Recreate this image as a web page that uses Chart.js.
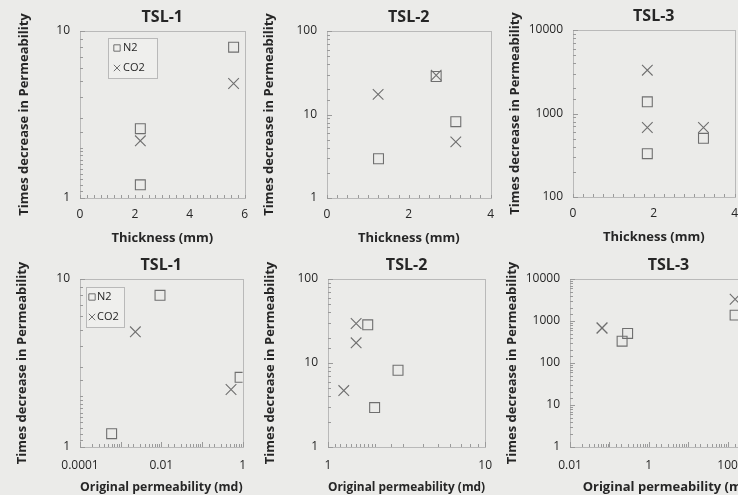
<!DOCTYPE html>
<html>
<head>
<meta charset="utf-8">
<script src="https://cdn.jsdelivr.net/npm/chart.js@4.4.0/dist/chart.umd.min.js"></script>
<style>
body { margin:0; background:#ebebe9; width:738px; height:495px; overflow:hidden; position:relative; }
canvas { position:absolute; }
</style>
</head>
<body>
<canvas id="c1"></canvas>
<canvas id="c2"></canvas>
<canvas id="c3"></canvas>
<canvas id="c4"></canvas>
<canvas id="c5"></canvas>
<canvas id="c6"></canvas>
<script>
// values: thickness (mm), original permeability (md), times decrease
const tsl1N2Thick = [2.2, 2.2, 5.6];
const tsl1N2Perm = [0.87, 0.0006, 0.0093];
const tsl1N2Times = [2.6, 1.2, 8.0];
const tsl1CO2Thick = [2.2, 5.6];
const tsl1CO2Perm = [0.52, 0.0023];
const tsl1CO2Times = [2.2, 4.85];

const tsl2N2Thick = [1.26, 2.67, 3.15];
const tsl2N2Perm = [1.98, 1.79, 2.79];
const tsl2N2Times = [2.95, 28.5, 8.2];
const tsl2CO2Thick = [1.25, 2.67, 3.15];
const tsl2CO2Perm = [1.51, 1.51, 1.26];
const tsl2CO2Times = [17.4, 29.5, 4.7];

const tsl3N2Thick = [1.84, 1.84, 3.23];
const tsl3N2Perm = [155, 0.21, 0.29];
const tsl3N2Times = [1380, 330, 505];
const tsl3CO2Thick = [1.84, 1.84, 3.23];
const tsl3CO2Perm = [155, 0.065, 0.065];
const tsl3CO2Times = [3300, 680, 680];

const seriesNames = ['N2', 'CO2'];
const yTitle = 'Times decrease in Permeability';

const ink = '#262626';
const markColor = '#6f6f6f';
const frameColor = '#b9b9b9';

function pts(xs, ys) {
	return xs.map((x, i) => ({x: x, y: ys[i]}));
}

const panels = [
	{id:'c1', title:'TSL-1', L:80, R:247, T:31, B:198, row:0, yt:14,
		x:{type:'linear', min:0, max:6, step:2}, y:{min:1, max:10},
		n2:pts(tsl1N2Thick, tsl1N2Times), co2:pts(tsl1CO2Thick, tsl1CO2Times),
		xTitle:'Thickness (mm)', legend:{dx:28, dy:7, w:49, h:40, sym:9, txt:15}},
	{id:'c2', title:'TSL-2', L:327, R:493, T:31, B:198, row:0, yt:12,
		x:{type:'linear', min:0, max:4, step:2}, y:{min:1, max:100},
		n2:pts(tsl2N2Thick, tsl2N2Times), co2:pts(tsl2CO2Thick, tsl2CO2Times),
		xTitle:'Thickness (mm)'},
	{id:'c3', title:'TSL-3', L:573, R:737, T:30, B:197, row:0, yt:12,
		x:{type:'linear', min:0, max:4, step:2}, y:{min:100, max:10000},
		n2:pts(tsl3N2Thick, tsl3N2Times), co2:pts(tsl3CO2Thick, tsl3CO2Times),
		xTitle:'Thickness (mm)'},
	{id:'c4', title:'TSL-1', L:80, R:247, T:279, B:447, row:1, yt:12,
		x:{type:'logarithmic', min:0.0001, max:1, every:2}, y:{min:1, max:10},
		n2:pts(tsl1N2Perm, tsl1N2Times), co2:pts(tsl1CO2Perm, tsl1CO2Times),
		xTitle:'Original permeability (md)', legend:{dx:6, dy:8, w:38, h:40, sym:6, txt:11}},
	{id:'c5', title:'TSL-2', L:328, R:493, T:279, B:447, row:1, yt:12,
		x:{type:'logarithmic', min:1, max:10}, y:{min:1, max:100},
		n2:pts(tsl2N2Perm, tsl2N2Times), co2:pts(tsl2CO2Perm, tsl2CO2Times),
		xTitle:'Original permeability (md)'},
	{id:'c6', title:'TSL-3', L:570, R:768, T:279, B:447, row:1, yt:12,
		x:{type:'logarithmic', min:0.01, max:1000, every:2}, y:{min:1, max:10000},
		n2:pts(tsl3N2Perm, tsl3N2Times), co2:pts(tsl3CO2Perm, tsl3CO2Times),
		xTitle:'Original permeability (md)'}
];

function isPow10(v) {
	let l = Math.log10(v);
	return Math.abs(l - Math.round(l)) < 1e-6;
}

function fmt(v) {
	return String(Number(v.toPrecision(6)));
}

// frame, inner tick marks, title and legend, drawn like the spreadsheet original
const decor = {
	id: 'decor',
	afterDraw(chart, args, opts) {
		const p = opts.panel;
		const a = chart.chartArea;
		const ctx = chart.ctx;
		const xs = chart.scales.x, ys = chart.scales.y;
		ctx.save();
		ctx.strokeStyle = frameColor;
		ctx.lineWidth = 1;
		ctx.strokeRect(Math.round(a.left) + 0.5, Math.round(a.top) + 0.5, Math.round(a.right - a.left), Math.round(a.bottom - a.top));

		ctx.strokeStyle = '#9a9a9a';
		ctx.beginPath();
		for (let t of ys.ticks) {
			let py = Math.round(ys.getPixelForValue(t.value)) + 0.5;
			let len = isPow10(t.value) ? 5 : 3;
			ctx.moveTo(a.left, py);
			ctx.lineTo(a.left + len, py);
		}
		if (p.x.type === 'logarithmic') {
			for (let t of xs.ticks) {
				let px = Math.round(xs.getPixelForValue(t.value)) + 0.5;
				let len = isPow10(t.value) ? 5 : 3;
				ctx.moveTo(px, a.bottom);
				ctx.lineTo(px, a.bottom - len);
			}
		} else {
			for (let v = p.x.min; v <= p.x.max + 1e-9; v += 0.25) {
				let px = Math.round(xs.getPixelForValue(v)) + 0.5;
				ctx.moveTo(px, a.bottom);
				ctx.lineTo(px, a.bottom - 3);
			}
		}
		ctx.stroke();

		ctx.fillStyle = ink;
		ctx.font = 'bold 16px "Open Sans"';
		ctx.textAlign = 'center';
		ctx.textBaseline = 'middle';
		ctx.fillText(p.title, (a.left + a.right) / 2, a.top - 14);

		if (p.legend) {
			const lg = p.legend;
			let bx = a.left + lg.dx, by = a.top + lg.dy;
			ctx.fillStyle = '#efefed';
			ctx.fillRect(bx, by, lg.w, lg.h);
			ctx.strokeStyle = frameColor;
			ctx.strokeRect(bx + 0.5, by + 0.5, lg.w, lg.h);
			ctx.font = '11px "Open Sans"';
			ctx.textAlign = 'left';
			const styles = ['rect', 'crossRot'];
			chart.data.datasets.forEach((ds, i) => {
				let cy = by + 10 + i * 20;
				ctx.strokeStyle = markColor;
				ctx.lineWidth = 1;
				Chart.helpers.drawPoint(ctx, {pointStyle: styles[i], radius: 4.5, borderWidth: 1}, bx + lg.sym, cy);
				ctx.fillStyle = ink;
				ctx.fillText(ds.label, bx + lg.txt, cy);
			});
		}
		ctx.restore();
	}
};

for (let p of panels) {
	const yW = 78, xH = 47;
	const cx = p.L - yW;
	const cy = p.row === 0 ? 0 : 248;
	const w = p.R - cx + 10;
	const h = p.B + xH - cy;
	const el = document.getElementById(p.id);
	el.width = w;
	el.height = h;
	el.style.left = cx + 'px';
	el.style.top = cy + 'px';

	const xOpts = {
		type: p.x.type,
		min: p.x.min,
		max: p.x.max,
		grid: {display: false, drawTicks: false},
		border: {display: false},
		afterFit: s => { s.height = xH; },
		title: {display: true, text: p.xTitle, color: ink, font: {family: 'Open Sans', size: 13, weight: 'bold'}, padding: {top: 0, bottom: -1}},
		ticks: {
			color: ink,
			font: {family: 'Open Sans', size: 12},
			padding: p.row === 0 ? 9 : 11,
			autoSkip: false,
			maxRotation: 0
		}
	};
	if (p.x.type === 'linear') {
		xOpts.ticks.stepSize = p.x.step;
	} else {
		const every = p.x.every || 1;
		xOpts.ticks.callback = v => {
			if (!isPow10(v)) return '';
			let e = Math.round(Math.log10(v) - Math.log10(p.x.min));
			return e % every === 0 ? fmt(v) : '';
		};
	}

	new Chart(el, {
		type: 'scatter',
		data: {
			datasets: [
				{label: seriesNames[0], data: p.n2, pointStyle: 'rect', pointRadius: 7, pointHoverRadius: 7,
					borderColor: markColor, backgroundColor: 'rgba(0,0,0,0)', borderWidth: 1.1},
				{label: seriesNames[1], data: p.co2, pointStyle: 'crossRot', pointRadius: 7.5, pointHoverRadius: 7.5,
					borderColor: markColor, backgroundColor: 'rgba(0,0,0,0)', borderWidth: 1.1}
			]
		},
		options: {
			responsive: false,
			animation: false,
			layout: {padding: {top: p.T - cy, right: w - (p.R - cx), left: 0, bottom: 0}},
			plugins: {
				legend: {display: false},
				tooltip: {enabled: false},
				decor: {panel: p}
			},
			scales: {
				x: xOpts,
				y: {
					type: 'logarithmic',
					min: p.y.min,
					max: p.y.max,
					grid: {display: false, drawTicks: false},
					border: {display: false},
					afterFit: s => { s.width = yW; },
					title: {display: true, text: yTitle, color: ink, font: {family: 'Open Sans', size: 13, weight: 'bold'}, padding: {top: p.yt, bottom: 0}},
					ticks: {
						color: ink,
						font: {family: 'Open Sans', size: 12},
						padding: 10,
						autoSkip: false,
						callback: v => isPow10(v) ? fmt(v) : ''
					}
				}
			}
		},
		plugins: [decor]
	});
}
</script>
</body>
</html>
